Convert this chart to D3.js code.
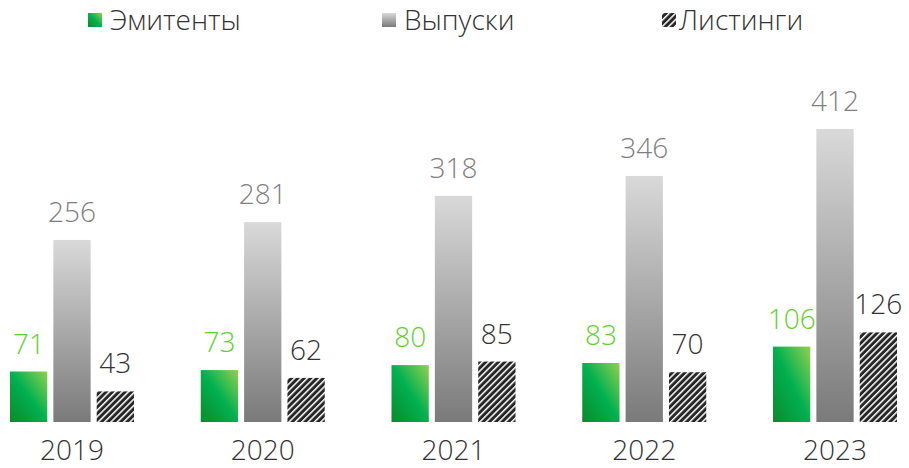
<!DOCTYPE html>
<html>
<head>
<meta charset="utf-8">
<script src="https://cdn.jsdelivr.net/npm/d3@7"></script>
<style>
  html, body { margin: 0; padding: 0; background: #fff; }
  svg { display: block; font-family: "Open Sans", "Noto Sans", sans-serif; font-weight: 300; }
</style>
</head>
<body>
<div id="chart"></div>
<script>
const years = ["2019", "2020", "2021", "2022", "2023"];
const seriesKeys = ["Эмитенты", "Выпуски", "Листинги"];
const issuers = [71, 73, 80, 83, 106];
const issues = [256, 281, 318, 346, 412];
const listings = [43, 62, 85, 70, 126];

const width = 909, height = 468;
const margin = { top: 129, bottom: 46, left: 10, right: 12 };

const svg = d3.select("#chart").append("svg")
  .attr("width", width).attr("height", height)
  .attr("viewBox", [0, 0, width, height]);

const defs = svg.append("defs");

const gGreen = defs.append("linearGradient").attr("id", "grad-green")
  .attr("x1", "0").attr("y1", "1").attr("x2", "1").attr("y2", "0");
gGreen.append("stop").attr("offset", "0%").attr("stop-color", "#0b8a2a");
gGreen.append("stop").attr("offset", "50%").attr("stop-color", "#00b050");
gGreen.append("stop").attr("offset", "100%").attr("stop-color", "#92d050");

const gGray = defs.append("linearGradient").attr("id", "grad-gray")
  .attr("x1", "0").attr("y1", "0").attr("x2", "0").attr("y2", "1");
gGray.append("stop").attr("offset", "0%").attr("stop-color", "#d9d9d9");
gGray.append("stop").attr("offset", "100%").attr("stop-color", "#7a7a7a");

// fine diagonal hatch, white lines on near-black
const hatch = defs.append("pattern").attr("id", "hatch")
  .attr("patternUnits", "userSpaceOnUse")
  .attr("width", 4.5).attr("height", 4.5)
  .attr("patternTransform", "rotate(45)");
hatch.append("rect").attr("width", 4.5).attr("height", 4.5).attr("fill", "#262626");
hatch.append("rect").attr("x", 0).attr("width", 1.5).attr("height", 4.5).attr("fill", "#fff");

const fills = ["url(#grad-green)", "url(#grad-gray)", "url(#hatch)"];
const labelColors = ["#5fd22c", "#7f7f7f", "#333333"];

const data = years.map((y, i) => ({ year: y, values: [issuers[i], issues[i], listings[i]] }));

const x0 = d3.scaleBand().domain(years)
  .range([margin.left, width - margin.right])
  .paddingInner(0.35).paddingOuter(0);
const x1 = d3.scaleBand().domain(d3.range(seriesKeys.length))
  .range([0, x0.bandwidth()]).paddingInner(0.14);
const y = d3.scaleLinear().domain([0, d3.max(issues)])
  .range([height - margin.bottom, margin.top]);

const groups = svg.append("g").attr("class", "bars")
  .selectAll("g").data(data).join("g")
  .attr("transform", d => `translate(${x0(d.year)},0)`);

groups.selectAll("rect")
  .data(d => d.values.map((v, k) => ({ k, v })))
  .join("rect")
  .attr("x", d => x1(d.k))
  .attr("y", d => y(d.v))
  .attr("width", x1.bandwidth())
  .attr("height", d => y(0) - y(d.v))
  .attr("fill", d => fills[d.k]);

groups.selectAll("text.value")
  .data(d => d.values.map((v, k) => ({ k, v })))
  .join("text")
  .attr("class", "value")
  .attr("x", d => x1(d.k) + x1.bandwidth() / 2)
  .attr("y", d => y(d.v) - 18)
  .attr("text-anchor", "middle")
  .attr("font-size", 28)
  .attr("fill", d => labelColors[d.k])
  .text(d => d.v);

// year axis
svg.append("g")
  .attr("transform", `translate(0,${height - margin.bottom})`)
  .call(d3.axisBottom(x0).tickSize(0).tickPadding(18))
  .call(g => g.select(".domain").remove())
  .call(g => g.selectAll("text")
    .attr("font-family", "Open Sans, Noto Sans, sans-serif")
    .attr("font-weight", 300)
    .attr("font-size", 28)
    .attr("fill", "#333"));

// legend
const legendX = [88, 382, 662];
const legend = svg.append("g").attr("class", "legend")
  .selectAll("g").data(seriesKeys).join("g")
  .attr("transform", (d, i) => `translate(${legendX[i]},13)`);
legend.append("rect")
  .attr("width", 14).attr("height", 14)
  .attr("fill", (d, i) => fills[i]);
legend.append("text")
  .attr("x", (d, i) => i === 2 ? 17 : 22)
  .attr("y", 7)
  .attr("dy", "0.35em")
  .attr("font-size", 28)
  .attr("fill", "#333")
  .text(d => d);
</script>
</body>
</html>
